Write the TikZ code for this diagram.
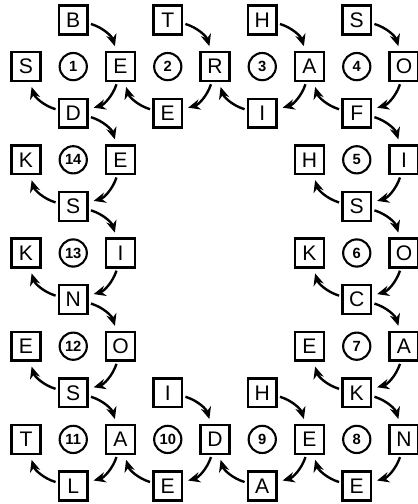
\documentclass[tikz,border=0pt]{standalone}
\usepackage{fontspec}
\setsansfont{Liberation Sans}
\usetikzlibrary{arrows.meta}

\begin{document}
\begin{tikzpicture}[x=0.025cm, y=-0.025cm,
    case/.style={draw, line width=1.8pt, minimum size=0.72cm, inner sep=0pt,
      font=\sffamily\fontsize{15}{15}\selectfont},
    rond/.style={draw, circle, line width=1.5pt, minimum size=0.68cm, inner sep=0pt,
      font=\sffamily\bfseries\fontsize{10.5}{10.5}\selectfont},
    fleche/.style={-{Stealth[length=3mm, width=2.6mm]}, line width=1.7pt,
      shorten <=1.5pt, shorten >=3.5pt}]

  % Cadre de l'image
  \useasboundingbox (0,0) rectangle (417,504);

  % Pas de la grille (colonnes et lignes)
  \def\px{47.25}
  \def\py{46.6}

  % ==============================================
  % 1. CASES DES LETTRES : lettre/colonne/ligne
  % ==============================================
  \foreach \lettre/\c/\r in {B/1/0, T/3/0, H/5/0, S/7/0,
      S/0/1, E/2/1, R/4/1, A/6/1, O/8/1,
      D/1/2, E/3/2, I/5/2, F/7/2,
      K/0/3, E/2/3, H/6/3, I/8/3,
      S/1/4, S/7/4,
      K/0/5, I/2/5, K/6/5, O/8/5,
      N/1/6, C/7/6,
      E/0/7, O/2/7, E/6/7, A/8/7,
      S/1/8, I/3/8, H/5/8, K/7/8,
      T/0/9, A/2/9, D/4/9, E/6/9, N/8/9,
      L/1/10, E/3/10, A/5/10, E/7/10} {
    \node[case] (n-\c-\r) at (26+\c*\px, 20+\r*\py) {\lettre};
  }

  % ==============================================
  % 2. CERCLES NUMEROTES ET FLECHES
  % ==============================================
  % haut -> droite -> bas -> gauche autour de chaque cercle
  \foreach \num/\c/\r in {1/1/1, 2/3/1, 3/5/1, 4/7/1, 5/7/3, 6/7/5, 7/7/7,
      8/7/9, 9/5/9, 10/3/9, 11/1/9, 12/1/7, 13/1/5, 14/1/3} {
    \pgfmathtruncatemacro{\cg}{\c-1}
    \pgfmathtruncatemacro{\cd}{\c+1}
    \pgfmathtruncatemacro{\rh}{\r-1}
    \pgfmathtruncatemacro{\rb}{\r+1}
    \node[rond] (o\num) at (26+\c*\px, 20+\r*\py) {\num};
    \draw[fleche] (n-\c-\rh.-12) to[bend left=28] (n-\cd-\r.105);
    \draw[fleche] (n-\cd-\r.258) to[bend left=28] (n-\c-\rb.15);
    \draw[fleche] (n-\c-\rb.168) to[bend left=28] (n-\cg-\r.285);
  }

\end{tikzpicture}
\end{document}
